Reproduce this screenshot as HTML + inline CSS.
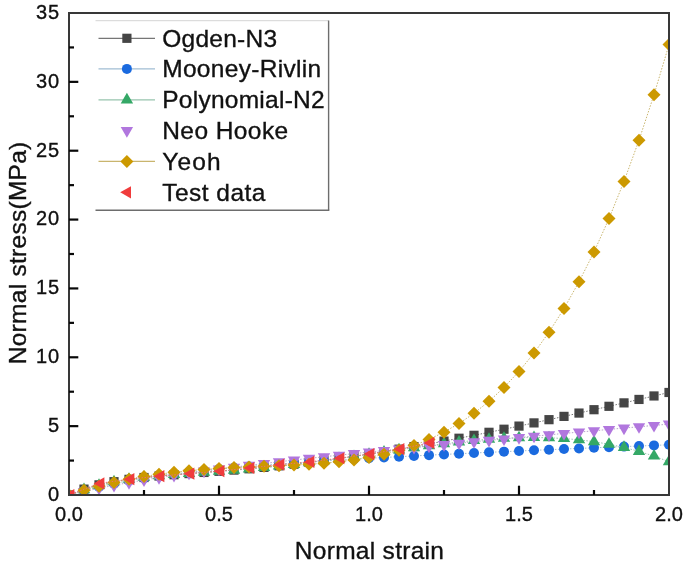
<!DOCTYPE html>
<html><head><meta charset="utf-8"><style>
html,body{margin:0;padding:0;background:#fff;}
body{width:685px;height:563px;overflow:hidden;}
svg{display:block;font-family:"Liberation Sans",sans-serif;filter:blur(0.4px);}
</style></head><body>
<svg width="685" height="563" viewBox="0 0 685 563">
<defs><clipPath id="pc"><rect x="69.0" y="13.0" width="600.0" height="482.0"/></clipPath></defs>
<g clip-path="url(#pc)">
<path d="M69.00 495.00 L84.00 489.12 L99.00 484.84 L114.00 481.69 L129.00 479.33 L144.00 477.51 L159.00 476.03 L174.00 474.76 L189.00 473.59 L204.00 472.46 L219.00 471.31 L234.00 470.10 L249.00 468.79 L264.00 467.38 L279.00 465.86 L294.00 464.20 L309.00 462.42 L324.00 460.52 L339.00 458.48 L354.00 456.32 L369.00 454.05 L384.00 451.66 L399.00 449.17 L414.00 446.57 L429.00 443.88 L444.00 441.11 L459.00 438.24 L474.00 435.31 L489.00 432.30 L504.00 429.23 L519.00 426.09 L534.00 422.90 L549.00 419.67 L564.00 416.38 L579.00 413.06 L594.00 409.70 L609.00 406.31 L624.00 402.88 L639.00 399.44 L654.00 395.96 L669.00 392.48" fill="none" stroke="#767676" stroke-width="1" stroke-dasharray="1.5 1.5"/>
<rect x="64.40" y="490.40" width="9.20" height="9.20" fill="#454545"/>
<rect x="79.40" y="484.52" width="9.20" height="9.20" fill="#454545"/>
<rect x="94.40" y="480.24" width="9.20" height="9.20" fill="#454545"/>
<rect x="109.40" y="477.09" width="9.20" height="9.20" fill="#454545"/>
<rect x="124.40" y="474.73" width="9.20" height="9.20" fill="#454545"/>
<rect x="139.40" y="472.91" width="9.20" height="9.20" fill="#454545"/>
<rect x="154.40" y="471.43" width="9.20" height="9.20" fill="#454545"/>
<rect x="169.40" y="470.16" width="9.20" height="9.20" fill="#454545"/>
<rect x="184.40" y="468.99" width="9.20" height="9.20" fill="#454545"/>
<rect x="199.40" y="467.86" width="9.20" height="9.20" fill="#454545"/>
<rect x="214.40" y="466.71" width="9.20" height="9.20" fill="#454545"/>
<rect x="229.40" y="465.50" width="9.20" height="9.20" fill="#454545"/>
<rect x="244.40" y="464.19" width="9.20" height="9.20" fill="#454545"/>
<rect x="259.40" y="462.78" width="9.20" height="9.20" fill="#454545"/>
<rect x="274.40" y="461.26" width="9.20" height="9.20" fill="#454545"/>
<rect x="289.40" y="459.60" width="9.20" height="9.20" fill="#454545"/>
<rect x="304.40" y="457.82" width="9.20" height="9.20" fill="#454545"/>
<rect x="319.40" y="455.92" width="9.20" height="9.20" fill="#454545"/>
<rect x="334.40" y="453.88" width="9.20" height="9.20" fill="#454545"/>
<rect x="349.40" y="451.72" width="9.20" height="9.20" fill="#454545"/>
<rect x="364.40" y="449.45" width="9.20" height="9.20" fill="#454545"/>
<rect x="379.40" y="447.06" width="9.20" height="9.20" fill="#454545"/>
<rect x="394.40" y="444.57" width="9.20" height="9.20" fill="#454545"/>
<rect x="409.40" y="441.97" width="9.20" height="9.20" fill="#454545"/>
<rect x="424.40" y="439.28" width="9.20" height="9.20" fill="#454545"/>
<rect x="439.40" y="436.51" width="9.20" height="9.20" fill="#454545"/>
<rect x="454.40" y="433.64" width="9.20" height="9.20" fill="#454545"/>
<rect x="469.40" y="430.71" width="9.20" height="9.20" fill="#454545"/>
<rect x="484.40" y="427.70" width="9.20" height="9.20" fill="#454545"/>
<rect x="499.40" y="424.63" width="9.20" height="9.20" fill="#454545"/>
<rect x="514.40" y="421.49" width="9.20" height="9.20" fill="#454545"/>
<rect x="529.40" y="418.30" width="9.20" height="9.20" fill="#454545"/>
<rect x="544.40" y="415.07" width="9.20" height="9.20" fill="#454545"/>
<rect x="559.40" y="411.78" width="9.20" height="9.20" fill="#454545"/>
<rect x="574.40" y="408.46" width="9.20" height="9.20" fill="#454545"/>
<rect x="589.40" y="405.10" width="9.20" height="9.20" fill="#454545"/>
<rect x="604.40" y="401.71" width="9.20" height="9.20" fill="#454545"/>
<rect x="619.40" y="398.28" width="9.20" height="9.20" fill="#454545"/>
<rect x="634.40" y="394.84" width="9.20" height="9.20" fill="#454545"/>
<rect x="649.40" y="391.36" width="9.20" height="9.20" fill="#454545"/>
<rect x="664.40" y="387.88" width="9.20" height="9.20" fill="#454545"/>
<path d="M69.00 495.00 L84.00 490.61 L99.00 486.85 L114.00 483.61 L129.00 480.77 L144.00 478.27 L159.00 476.04 L174.00 474.04 L189.00 472.24 L204.00 470.59 L219.00 469.08 L234.00 467.68 L249.00 466.39 L264.00 465.18 L279.00 464.04 L294.00 462.97 L309.00 461.95 L324.00 460.98 L339.00 460.05 L354.00 459.17 L369.00 458.31 L384.00 457.49 L399.00 456.69 L414.00 455.92 L429.00 455.16 L444.00 454.43 L459.00 453.71 L474.00 453.01 L489.00 452.32 L504.00 451.65 L519.00 450.99 L534.00 450.33 L549.00 449.69 L564.00 449.06 L579.00 448.43 L594.00 447.81 L609.00 447.20 L624.00 446.60 L639.00 446.00 L654.00 445.40 L669.00 444.81" fill="none" stroke="#a0bdd3" stroke-width="1" stroke-dasharray="1.5 1.5"/>
<circle cx="69.00" cy="495.00" r="5" fill="#1a6adf"/>
<circle cx="84.00" cy="490.61" r="5" fill="#1a6adf"/>
<circle cx="99.00" cy="486.85" r="5" fill="#1a6adf"/>
<circle cx="114.00" cy="483.61" r="5" fill="#1a6adf"/>
<circle cx="129.00" cy="480.77" r="5" fill="#1a6adf"/>
<circle cx="144.00" cy="478.27" r="5" fill="#1a6adf"/>
<circle cx="159.00" cy="476.04" r="5" fill="#1a6adf"/>
<circle cx="174.00" cy="474.04" r="5" fill="#1a6adf"/>
<circle cx="189.00" cy="472.24" r="5" fill="#1a6adf"/>
<circle cx="204.00" cy="470.59" r="5" fill="#1a6adf"/>
<circle cx="219.00" cy="469.08" r="5" fill="#1a6adf"/>
<circle cx="234.00" cy="467.68" r="5" fill="#1a6adf"/>
<circle cx="249.00" cy="466.39" r="5" fill="#1a6adf"/>
<circle cx="264.00" cy="465.18" r="5" fill="#1a6adf"/>
<circle cx="279.00" cy="464.04" r="5" fill="#1a6adf"/>
<circle cx="294.00" cy="462.97" r="5" fill="#1a6adf"/>
<circle cx="309.00" cy="461.95" r="5" fill="#1a6adf"/>
<circle cx="324.00" cy="460.98" r="5" fill="#1a6adf"/>
<circle cx="339.00" cy="460.05" r="5" fill="#1a6adf"/>
<circle cx="354.00" cy="459.17" r="5" fill="#1a6adf"/>
<circle cx="369.00" cy="458.31" r="5" fill="#1a6adf"/>
<circle cx="384.00" cy="457.49" r="5" fill="#1a6adf"/>
<circle cx="399.00" cy="456.69" r="5" fill="#1a6adf"/>
<circle cx="414.00" cy="455.92" r="5" fill="#1a6adf"/>
<circle cx="429.00" cy="455.16" r="5" fill="#1a6adf"/>
<circle cx="444.00" cy="454.43" r="5" fill="#1a6adf"/>
<circle cx="459.00" cy="453.71" r="5" fill="#1a6adf"/>
<circle cx="474.00" cy="453.01" r="5" fill="#1a6adf"/>
<circle cx="489.00" cy="452.32" r="5" fill="#1a6adf"/>
<circle cx="504.00" cy="451.65" r="5" fill="#1a6adf"/>
<circle cx="519.00" cy="450.99" r="5" fill="#1a6adf"/>
<circle cx="534.00" cy="450.33" r="5" fill="#1a6adf"/>
<circle cx="549.00" cy="449.69" r="5" fill="#1a6adf"/>
<circle cx="564.00" cy="449.06" r="5" fill="#1a6adf"/>
<circle cx="579.00" cy="448.43" r="5" fill="#1a6adf"/>
<circle cx="594.00" cy="447.81" r="5" fill="#1a6adf"/>
<circle cx="609.00" cy="447.20" r="5" fill="#1a6adf"/>
<circle cx="624.00" cy="446.60" r="5" fill="#1a6adf"/>
<circle cx="639.00" cy="446.00" r="5" fill="#1a6adf"/>
<circle cx="654.00" cy="445.40" r="5" fill="#1a6adf"/>
<circle cx="669.00" cy="444.81" r="5" fill="#1a6adf"/>
<path d="M69.00 495.00 L84.00 489.59 L99.00 485.22 L114.00 481.81 L129.00 479.21 L144.00 477.22 L159.00 475.68 L174.00 474.43 L189.00 473.35 L204.00 472.32 L219.00 471.29 L234.00 470.17 L249.00 468.95 L264.00 467.59 L279.00 466.07 L294.00 464.40 L309.00 462.59 L324.00 460.65 L339.00 458.60 L354.00 456.47 L369.00 454.28 L384.00 452.07 L399.00 449.88 L414.00 447.73 L429.00 445.68 L444.00 443.77 L459.00 442.03 L474.00 440.50 L489.00 439.25 L504.00 438.30 L519.00 437.71 L534.00 437.52 L549.00 437.77 L564.00 438.53 L579.00 439.82 L594.00 441.71 L609.00 444.23 L624.00 447.43 L639.00 451.37 L654.00 456.09 L669.00 461.64" fill="none" stroke="#97c4ae" stroke-width="1" stroke-dasharray="1.5 1.5"/>
<path d="M69.00 487.93L75.20 498.53L62.80 498.53Z" fill="#34a866"/>
<path d="M84.00 482.53L90.20 493.13L77.80 493.13Z" fill="#34a866"/>
<path d="M99.00 478.16L105.20 488.76L92.80 488.76Z" fill="#34a866"/>
<path d="M114.00 474.75L120.20 485.35L107.80 485.35Z" fill="#34a866"/>
<path d="M129.00 472.14L135.20 482.74L122.80 482.74Z" fill="#34a866"/>
<path d="M144.00 470.15L150.20 480.75L137.80 480.75Z" fill="#34a866"/>
<path d="M159.00 468.61L165.20 479.21L152.80 479.21Z" fill="#34a866"/>
<path d="M174.00 467.36L180.20 477.96L167.80 477.96Z" fill="#34a866"/>
<path d="M189.00 466.28L195.20 476.88L182.80 476.88Z" fill="#34a866"/>
<path d="M204.00 465.26L210.20 475.86L197.80 475.86Z" fill="#34a866"/>
<path d="M219.00 464.22L225.20 474.82L212.80 474.82Z" fill="#34a866"/>
<path d="M234.00 463.11L240.20 473.71L227.80 473.71Z" fill="#34a866"/>
<path d="M249.00 461.88L255.20 472.48L242.80 472.48Z" fill="#34a866"/>
<path d="M264.00 460.52L270.20 471.12L257.80 471.12Z" fill="#34a866"/>
<path d="M279.00 459.00L285.20 469.60L272.80 469.60Z" fill="#34a866"/>
<path d="M294.00 457.34L300.20 467.94L287.80 467.94Z" fill="#34a866"/>
<path d="M309.00 455.53L315.20 466.13L302.80 466.13Z" fill="#34a866"/>
<path d="M324.00 453.59L330.20 464.19L317.80 464.19Z" fill="#34a866"/>
<path d="M339.00 451.54L345.20 462.14L332.80 462.14Z" fill="#34a866"/>
<path d="M354.00 449.40L360.20 460.00L347.80 460.00Z" fill="#34a866"/>
<path d="M369.00 447.21L375.20 457.81L362.80 457.81Z" fill="#34a866"/>
<path d="M384.00 445.00L390.20 455.60L377.80 455.60Z" fill="#34a866"/>
<path d="M399.00 442.81L405.20 453.41L392.80 453.41Z" fill="#34a866"/>
<path d="M414.00 440.67L420.20 451.27L407.80 451.27Z" fill="#34a866"/>
<path d="M429.00 438.62L435.20 449.22L422.80 449.22Z" fill="#34a866"/>
<path d="M444.00 436.70L450.20 447.30L437.80 447.30Z" fill="#34a866"/>
<path d="M459.00 434.96L465.20 445.56L452.80 445.56Z" fill="#34a866"/>
<path d="M474.00 433.44L480.20 444.04L467.80 444.04Z" fill="#34a866"/>
<path d="M489.00 432.18L495.20 442.78L482.80 442.78Z" fill="#34a866"/>
<path d="M504.00 431.23L510.20 441.83L497.80 441.83Z" fill="#34a866"/>
<path d="M519.00 430.64L525.20 441.24L512.80 441.24Z" fill="#34a866"/>
<path d="M534.00 430.45L540.20 441.05L527.80 441.05Z" fill="#34a866"/>
<path d="M549.00 430.71L555.20 441.31L542.80 441.31Z" fill="#34a866"/>
<path d="M564.00 431.46L570.20 442.06L557.80 442.06Z" fill="#34a866"/>
<path d="M579.00 432.76L585.20 443.36L572.80 443.36Z" fill="#34a866"/>
<path d="M594.00 434.64L600.20 445.24L587.80 445.24Z" fill="#34a866"/>
<path d="M609.00 437.16L615.20 447.76L602.80 447.76Z" fill="#34a866"/>
<path d="M624.00 440.37L630.20 450.97L617.80 450.97Z" fill="#34a866"/>
<path d="M639.00 444.30L645.20 454.90L632.80 454.90Z" fill="#34a866"/>
<path d="M654.00 449.02L660.20 459.62L647.80 459.62Z" fill="#34a866"/>
<path d="M669.00 454.57L675.20 465.17L662.80 465.17Z" fill="#34a866"/>
<path d="M69.00 495.00 L84.00 491.49 L99.00 488.29 L114.00 485.33 L129.00 482.59 L144.00 480.03 L159.00 477.62 L174.00 475.33 L189.00 473.16 L204.00 471.09 L219.00 469.09 L234.00 467.18 L249.00 465.32 L264.00 463.52 L279.00 461.77 L294.00 460.07 L309.00 458.40 L324.00 456.77 L339.00 455.17 L354.00 453.60 L369.00 452.05 L384.00 450.53 L399.00 449.03 L414.00 447.54 L429.00 446.08 L444.00 444.63 L459.00 443.19 L474.00 441.77 L489.00 440.36 L504.00 438.96 L519.00 437.57 L534.00 436.19 L549.00 434.82 L564.00 433.46 L579.00 432.10 L594.00 430.76 L609.00 429.41 L624.00 428.08 L639.00 426.75 L654.00 425.42 L669.00 424.10" fill="none" stroke="#b7a4c9" stroke-width="1" stroke-dasharray="1.5 1.5"/>
<path d="M69.00 502.07L75.20 491.47L62.80 491.47Z" fill="#b177de"/>
<path d="M84.00 498.56L90.20 487.96L77.80 487.96Z" fill="#b177de"/>
<path d="M99.00 495.35L105.20 484.75L92.80 484.75Z" fill="#b177de"/>
<path d="M114.00 492.40L120.20 481.80L107.80 481.80Z" fill="#b177de"/>
<path d="M129.00 489.66L135.20 479.06L122.80 479.06Z" fill="#b177de"/>
<path d="M144.00 487.10L150.20 476.50L137.80 476.50Z" fill="#b177de"/>
<path d="M159.00 484.68L165.20 474.08L152.80 474.08Z" fill="#b177de"/>
<path d="M174.00 482.40L180.20 471.80L167.80 471.80Z" fill="#b177de"/>
<path d="M189.00 480.23L195.20 469.63L182.80 469.63Z" fill="#b177de"/>
<path d="M204.00 478.15L210.20 467.55L197.80 467.55Z" fill="#b177de"/>
<path d="M219.00 476.16L225.20 465.56L212.80 465.56Z" fill="#b177de"/>
<path d="M234.00 474.24L240.20 463.64L227.80 463.64Z" fill="#b177de"/>
<path d="M249.00 472.39L255.20 461.79L242.80 461.79Z" fill="#b177de"/>
<path d="M264.00 470.59L270.20 459.99L257.80 459.99Z" fill="#b177de"/>
<path d="M279.00 468.84L285.20 458.24L272.80 458.24Z" fill="#b177de"/>
<path d="M294.00 467.13L300.20 456.53L287.80 456.53Z" fill="#b177de"/>
<path d="M309.00 465.47L315.20 454.87L302.80 454.87Z" fill="#b177de"/>
<path d="M324.00 463.84L330.20 453.24L317.80 453.24Z" fill="#b177de"/>
<path d="M339.00 462.24L345.20 451.64L332.80 451.64Z" fill="#b177de"/>
<path d="M354.00 460.66L360.20 450.06L347.80 450.06Z" fill="#b177de"/>
<path d="M369.00 459.12L375.20 448.52L362.80 448.52Z" fill="#b177de"/>
<path d="M384.00 457.60L390.20 447.00L377.80 447.00Z" fill="#b177de"/>
<path d="M399.00 456.09L405.20 445.49L392.80 445.49Z" fill="#b177de"/>
<path d="M414.00 454.61L420.20 444.01L407.80 444.01Z" fill="#b177de"/>
<path d="M429.00 453.15L435.20 442.55L422.80 442.55Z" fill="#b177de"/>
<path d="M444.00 451.70L450.20 441.10L437.80 441.10Z" fill="#b177de"/>
<path d="M459.00 450.26L465.20 439.66L452.80 439.66Z" fill="#b177de"/>
<path d="M474.00 448.84L480.20 438.24L467.80 438.24Z" fill="#b177de"/>
<path d="M489.00 447.43L495.20 436.83L482.80 436.83Z" fill="#b177de"/>
<path d="M504.00 446.03L510.20 435.43L497.80 435.43Z" fill="#b177de"/>
<path d="M519.00 444.64L525.20 434.04L512.80 434.04Z" fill="#b177de"/>
<path d="M534.00 443.26L540.20 432.66L527.80 432.66Z" fill="#b177de"/>
<path d="M549.00 441.89L555.20 431.29L542.80 431.29Z" fill="#b177de"/>
<path d="M564.00 440.53L570.20 429.93L557.80 429.93Z" fill="#b177de"/>
<path d="M579.00 439.17L585.20 428.57L572.80 428.57Z" fill="#b177de"/>
<path d="M594.00 437.82L600.20 427.22L587.80 427.22Z" fill="#b177de"/>
<path d="M609.00 436.48L615.20 425.88L602.80 425.88Z" fill="#b177de"/>
<path d="M624.00 435.14L630.20 424.54L617.80 424.54Z" fill="#b177de"/>
<path d="M639.00 433.81L645.20 423.21L632.80 423.21Z" fill="#b177de"/>
<path d="M654.00 432.49L660.20 421.89L647.80 421.89Z" fill="#b177de"/>
<path d="M669.00 431.17L675.20 420.57L662.80 420.57Z" fill="#b177de"/>
<path d="M69.00 495.00 L84.00 490.34 L99.00 486.17 L114.00 482.48 L129.00 479.28 L144.00 476.53 L159.00 474.20 L174.00 472.27 L189.00 470.69 L204.00 469.42 L219.00 468.41 L234.00 467.61 L249.00 466.94 L264.00 466.35 L279.00 465.77 L294.00 465.10 L309.00 464.28 L324.00 463.20 L339.00 461.76 L354.00 459.88 L369.00 457.42 L384.00 454.27 L399.00 450.31 L414.00 445.40 L429.00 439.40 L444.00 432.15 L459.00 423.50 L474.00 413.29 L489.00 401.32 L504.00 387.43 L519.00 371.41 L534.00 353.06 L549.00 332.17 L564.00 308.52 L579.00 281.86 L594.00 251.97 L609.00 218.58 L624.00 181.43 L639.00 140.24 L654.00 94.74 L669.00 44.62" fill="none" stroke="#c9b56e" stroke-width="1" stroke-dasharray="1.5 1.5"/>
<path d="M69.00 488.50L75.50 495.00L69.00 501.50L62.50 495.00Z" fill="#cc9900"/>
<path d="M84.00 483.84L90.50 490.34L84.00 496.84L77.50 490.34Z" fill="#cc9900"/>
<path d="M99.00 479.67L105.50 486.17L99.00 492.67L92.50 486.17Z" fill="#cc9900"/>
<path d="M114.00 475.98L120.50 482.48L114.00 488.98L107.50 482.48Z" fill="#cc9900"/>
<path d="M129.00 472.78L135.50 479.28L129.00 485.78L122.50 479.28Z" fill="#cc9900"/>
<path d="M144.00 470.03L150.50 476.53L144.00 483.03L137.50 476.53Z" fill="#cc9900"/>
<path d="M159.00 467.70L165.50 474.20L159.00 480.70L152.50 474.20Z" fill="#cc9900"/>
<path d="M174.00 465.77L180.50 472.27L174.00 478.77L167.50 472.27Z" fill="#cc9900"/>
<path d="M189.00 464.19L195.50 470.69L189.00 477.19L182.50 470.69Z" fill="#cc9900"/>
<path d="M204.00 462.92L210.50 469.42L204.00 475.92L197.50 469.42Z" fill="#cc9900"/>
<path d="M219.00 461.91L225.50 468.41L219.00 474.91L212.50 468.41Z" fill="#cc9900"/>
<path d="M234.00 461.11L240.50 467.61L234.00 474.11L227.50 467.61Z" fill="#cc9900"/>
<path d="M249.00 460.44L255.50 466.94L249.00 473.44L242.50 466.94Z" fill="#cc9900"/>
<path d="M264.00 459.85L270.50 466.35L264.00 472.85L257.50 466.35Z" fill="#cc9900"/>
<path d="M279.00 459.27L285.50 465.77L279.00 472.27L272.50 465.77Z" fill="#cc9900"/>
<path d="M294.00 458.60L300.50 465.10L294.00 471.60L287.50 465.10Z" fill="#cc9900"/>
<path d="M309.00 457.78L315.50 464.28L309.00 470.78L302.50 464.28Z" fill="#cc9900"/>
<path d="M324.00 456.70L330.50 463.20L324.00 469.70L317.50 463.20Z" fill="#cc9900"/>
<path d="M339.00 455.26L345.50 461.76L339.00 468.26L332.50 461.76Z" fill="#cc9900"/>
<path d="M354.00 453.38L360.50 459.88L354.00 466.38L347.50 459.88Z" fill="#cc9900"/>
<path d="M369.00 450.92L375.50 457.42L369.00 463.92L362.50 457.42Z" fill="#cc9900"/>
<path d="M384.00 447.77L390.50 454.27L384.00 460.77L377.50 454.27Z" fill="#cc9900"/>
<path d="M399.00 443.81L405.50 450.31L399.00 456.81L392.50 450.31Z" fill="#cc9900"/>
<path d="M414.00 438.90L420.50 445.40L414.00 451.90L407.50 445.40Z" fill="#cc9900"/>
<path d="M429.00 432.90L435.50 439.40L429.00 445.90L422.50 439.40Z" fill="#cc9900"/>
<path d="M444.00 425.65L450.50 432.15L444.00 438.65L437.50 432.15Z" fill="#cc9900"/>
<path d="M459.00 417.00L465.50 423.50L459.00 430.00L452.50 423.50Z" fill="#cc9900"/>
<path d="M474.00 406.79L480.50 413.29L474.00 419.79L467.50 413.29Z" fill="#cc9900"/>
<path d="M489.00 394.82L495.50 401.32L489.00 407.82L482.50 401.32Z" fill="#cc9900"/>
<path d="M504.00 380.93L510.50 387.43L504.00 393.93L497.50 387.43Z" fill="#cc9900"/>
<path d="M519.00 364.91L525.50 371.41L519.00 377.91L512.50 371.41Z" fill="#cc9900"/>
<path d="M534.00 346.56L540.50 353.06L534.00 359.56L527.50 353.06Z" fill="#cc9900"/>
<path d="M549.00 325.67L555.50 332.17L549.00 338.67L542.50 332.17Z" fill="#cc9900"/>
<path d="M564.00 302.02L570.50 308.52L564.00 315.02L557.50 308.52Z" fill="#cc9900"/>
<path d="M579.00 275.36L585.50 281.86L579.00 288.36L572.50 281.86Z" fill="#cc9900"/>
<path d="M594.00 245.47L600.50 251.97L594.00 258.47L587.50 251.97Z" fill="#cc9900"/>
<path d="M609.00 212.08L615.50 218.58L609.00 225.08L602.50 218.58Z" fill="#cc9900"/>
<path d="M624.00 174.93L630.50 181.43L624.00 187.93L617.50 181.43Z" fill="#cc9900"/>
<path d="M639.00 133.74L645.50 140.24L639.00 146.74L632.50 140.24Z" fill="#cc9900"/>
<path d="M654.00 88.24L660.50 94.74L654.00 101.24L647.50 94.74Z" fill="#cc9900"/>
<path d="M669.00 38.12L675.50 44.62L669.00 51.12L662.50 44.62Z" fill="#cc9900"/>
<path d="M69.00 495.00 L99.00 483.43 L129.00 479.16 L159.00 476.13 L189.00 473.65 L219.00 471.18 L249.00 468.01 L279.00 464.70 L309.00 461.95 L339.00 458.23 L369.00 454.10 L399.00 449.14 L429.00 442.94" fill="none" stroke="#e87272" stroke-width="1" stroke-dasharray="1.5 1.5"/>
<path d="M63.60 495.00L74.40 488.90L74.40 501.10Z" fill="#f03c3c"/>
<path d="M93.60 483.43L104.40 477.33L104.40 489.53Z" fill="#f03c3c"/>
<path d="M123.60 479.16L134.40 473.06L134.40 485.26Z" fill="#f03c3c"/>
<path d="M153.60 476.13L164.40 470.03L164.40 482.23Z" fill="#f03c3c"/>
<path d="M183.60 473.65L194.40 467.55L194.40 479.75Z" fill="#f03c3c"/>
<path d="M213.60 471.18L224.40 465.08L224.40 477.28Z" fill="#f03c3c"/>
<path d="M243.60 468.01L254.40 461.91L254.40 474.11Z" fill="#f03c3c"/>
<path d="M273.60 464.70L284.40 458.60L284.40 470.80Z" fill="#f03c3c"/>
<path d="M303.60 461.95L314.40 455.85L314.40 468.05Z" fill="#f03c3c"/>
<path d="M333.60 458.23L344.40 452.13L344.40 464.33Z" fill="#f03c3c"/>
<path d="M363.60 454.10L374.40 448.00L374.40 460.20Z" fill="#f03c3c"/>
<path d="M393.60 449.14L404.40 443.04L404.40 455.24Z" fill="#f03c3c"/>
<path d="M423.60 442.94L434.40 436.84L434.40 449.04Z" fill="#f03c3c"/>
</g>
<g stroke="#383838" stroke-width="2" fill="none">
<rect x="69.0" y="13.0" width="600.0" height="482.0"/>
</g>
<g stroke="#080808" stroke-width="2.2" fill="none">
<line x1="69.0" y1="426.14" x2="78.3" y2="426.14"/>
<line x1="69.0" y1="357.29" x2="78.3" y2="357.29"/>
<line x1="69.0" y1="288.43" x2="78.3" y2="288.43"/>
<line x1="69.0" y1="219.57" x2="78.3" y2="219.57"/>
<line x1="69.0" y1="150.71" x2="78.3" y2="150.71"/>
<line x1="69.0" y1="81.86" x2="78.3" y2="81.86"/>
<line x1="69.0" y1="460.57" x2="74.0" y2="460.57"/>
<line x1="69.0" y1="391.71" x2="74.0" y2="391.71"/>
<line x1="69.0" y1="322.86" x2="74.0" y2="322.86"/>
<line x1="69.0" y1="254.00" x2="74.0" y2="254.00"/>
<line x1="69.0" y1="185.14" x2="74.0" y2="185.14"/>
<line x1="69.0" y1="116.29" x2="74.0" y2="116.29"/>
<line x1="69.0" y1="47.43" x2="74.0" y2="47.43"/>
<line x1="219.00" y1="495.0" x2="219.00" y2="485.7"/>
<line x1="369.00" y1="495.0" x2="369.00" y2="485.7"/>
<line x1="519.00" y1="495.0" x2="519.00" y2="485.7"/>
<line x1="144.00" y1="495.0" x2="144.00" y2="490.0"/>
<line x1="294.00" y1="495.0" x2="294.00" y2="490.0"/>
<line x1="444.00" y1="495.0" x2="444.00" y2="490.0"/>
<line x1="594.00" y1="495.0" x2="594.00" y2="490.0"/>
</g>
<g font-size="20" fill="#111" stroke="#111" stroke-width="0.35">
<text x="59.0" y="500.90" text-anchor="end">0</text>
<text x="59.0" y="432.04" text-anchor="end">5</text>
<text x="59.0" y="363.19" text-anchor="end" textLength="23" lengthAdjust="spacing">10</text>
<text x="59.0" y="294.33" text-anchor="end" textLength="23" lengthAdjust="spacing">15</text>
<text x="59.0" y="225.47" text-anchor="end" textLength="23" lengthAdjust="spacing">20</text>
<text x="59.0" y="156.61" text-anchor="end" textLength="23" lengthAdjust="spacing">25</text>
<text x="59.0" y="87.76" text-anchor="end" textLength="23" lengthAdjust="spacing">30</text>
<text x="59.0" y="18.90" text-anchor="end" textLength="23" lengthAdjust="spacing">35</text>
<text x="69.00" y="521.0" text-anchor="middle">0.0</text>
<text x="219.00" y="521.0" text-anchor="middle">0.5</text>
<text x="369.00" y="521.0" text-anchor="middle">1.0</text>
<text x="519.00" y="521.0" text-anchor="middle">1.5</text>
<text x="669.00" y="521.0" text-anchor="middle">2.0</text>
</g>
<g>
<line x1="95.5" y1="20.7" x2="328.5" y2="20.7" stroke="#d4d4d4" stroke-width="1"/>
<line x1="328.6" y1="20.5" x2="328.6" y2="210.4" stroke="#6d6d6d" stroke-width="1.4"/>
<line x1="95.5" y1="210.2" x2="329.3" y2="210.2" stroke="#6d6d6d" stroke-width="1.4"/>
<line x1="98.5" y1="38.3" x2="155" y2="38.3" stroke="#767676" stroke-width="1.3"/>
<rect x="122.30" y="33.70" width="9.20" height="9.20" fill="#454545"/>
<text font-size="24.5" fill="#111" stroke="#111" stroke-width="0.35" x="162.2" y="46.70" textLength="114.9" lengthAdjust="spacing">Ogden-N3</text>
<line x1="98.5" y1="68.9" x2="155" y2="68.9" stroke="#a0bdd3" stroke-width="1.3"/>
<circle cx="126.90" cy="68.90" r="5" fill="#1a6adf"/>
<text font-size="24.5" fill="#111" stroke="#111" stroke-width="0.35" x="162.2" y="77.30" textLength="158.9" lengthAdjust="spacing">Mooney-Rivlin</text>
<line x1="98.5" y1="99.9" x2="155" y2="99.9" stroke="#97c4ae" stroke-width="1.3"/>
<path d="M126.90 92.83L133.10 103.43L120.70 103.43Z" fill="#34a866"/>
<text font-size="24.5" fill="#111" stroke="#111" stroke-width="0.35" x="162.2" y="108.30" textLength="162.5" lengthAdjust="spacing">Polynomial-N2</text>
<path d="M126.90 137.67L133.10 127.07L120.70 127.07Z" fill="#b177de"/>
<text font-size="24.5" fill="#111" stroke="#111" stroke-width="0.35" x="162.2" y="139.00" textLength="126.0" lengthAdjust="spacing">Neo Hooke</text>
<line x1="98.5" y1="161.4" x2="155" y2="161.4" stroke="#c9b56e" stroke-width="1.3"/>
<path d="M126.90 154.90L133.40 161.40L126.90 167.90L120.40 161.40Z" fill="#cc9900"/>
<text font-size="24.5" fill="#111" stroke="#111" stroke-width="0.35" x="162.2" y="169.80" textLength="58.4" lengthAdjust="spacing">Yeoh</text>
<path d="M120.20 192.30L131.00 186.20L131.00 198.40Z" fill="#f03c3c"/>
<text font-size="24.5" fill="#111" stroke="#111" stroke-width="0.35" x="162.2" y="200.70" textLength="103.3" lengthAdjust="spacing">Test data</text>
</g>
<g font-size="24.5" fill="#111" stroke="#111" stroke-width="0.35">
<g></g>
<text x="369.4" y="559" text-anchor="middle" textLength="149.2" lengthAdjust="spacing">Normal strain</text>
<text transform="translate(25.6 253.0) rotate(-90)" text-anchor="middle" textLength="222.6" lengthAdjust="spacing">Normal stress(MPa)</text>
</g>
</svg>
</body></html>
